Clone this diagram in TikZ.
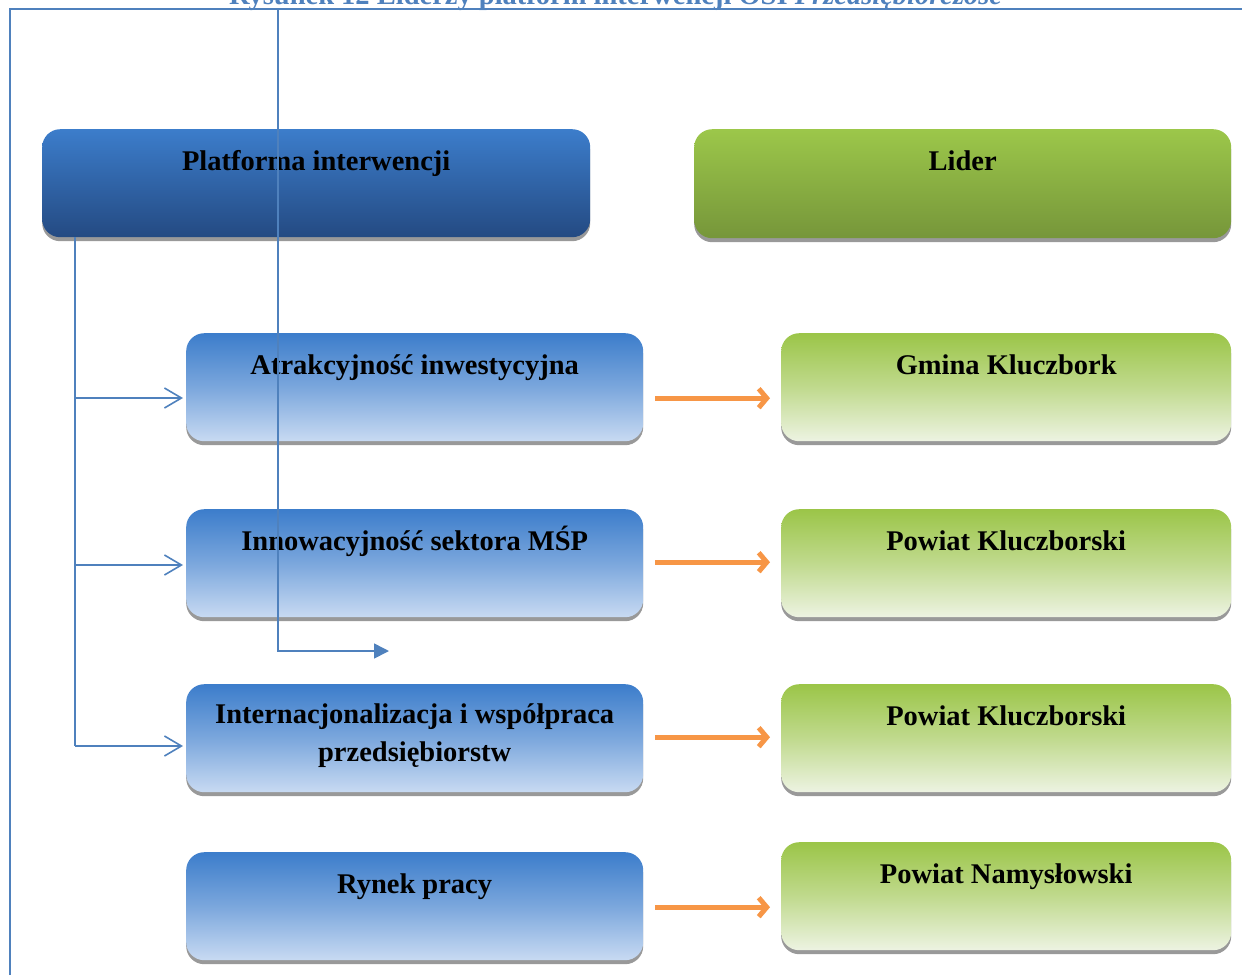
\documentclass[tikz,border=0pt]{standalone}
\usepackage{fontspec}
\setmainfont{Liberation Serif}
\usetikzlibrary{arrows.meta,shadows,calc}
\definecolor{frameblue}{HTML}{4F81BD}
\definecolor{ptop}{HTML}{3C7DCB}
\definecolor{pbot}{HTML}{244A82}
\definecolor{btop}{HTML}{3C7DCB}
\definecolor{bbot}{HTML}{C8DAF2}
\definecolor{ltop}{HTML}{9CC74A}
\definecolor{lbot}{HTML}{76963A}
\definecolor{gtop}{HTML}{9BC548}
\definecolor{gbot}{HTML}{EDF3E2}
\definecolor{orangeA}{HTML}{F79646}
\begin{document}
\begin{tikzpicture}[x=1pt,y=-1pt,
  boxbase/.style={rounded corners=18pt, anchor=north west, inner sep=0pt,
    general shadow={fill=black!40, shadow yshift=-4pt, shadow xshift=0pt}},
  platbox/.style={boxbase, top color=ptop, bottom color=pbot},
  liderbox/.style={boxbase, top color=ltop, bottom color=lbot},
  bluebox/.style={boxbase, top color=btop, bottom color=bbot, middle color=btop!55!bbot},
  greenbox/.style={boxbase, top color=gtop, bottom color=gbot, middle color=gtop!55!gbot},
  lefts/.style={minimum width=457pt, minimum height=108pt},
  rights/.style={minimum width=450pt, minimum height=108pt},
  txt/.style={font=\fontsize{28.5}{38}\selectfont\bfseries, inner sep=0pt, align=center, anchor=base},
  bline/.style={draw=frameblue, line width=1.6pt},
  openhead/.style={bline, -{Straight Barb[length=17pt,width=20pt]}},
  orarrow/.style={draw=orangeA, line width=5pt, -{Straight Barb[length=8pt,width=19pt]}},
]
\useasboundingbox (0,0) rectangle (1242,975);

% title (cut off at the top edge, as in the reference)
\node[font=\fontsize{28.5}{34}\selectfont\bfseries, text=frameblue, inner sep=0pt, anchor=base] (title) at (616,4)
  {Rysunek 12 Liderzy platform interwencji OSI \textit{Przedsiębiorczość}};

% frame
\coordinate (f0) at (10,975);
\coordinate (f1) at (10,9);
\coordinate (f2) at (1242,9);
\draw[bline] (f0) -- (f1) -- (f2);

% header boxes
\node[platbox, minimum width=548pt, minimum height=108pt] (p) at (42,129) {};
\node[liderbox, minimum width=537pt, minimum height=109pt] (l) at (694,129) {};

% left boxes
\node[bluebox, lefts] (a1) at (186,333) {};
\node[bluebox, lefts] (a2) at (186,509) {};
\node[bluebox, lefts] (a3) at (186,684) {};
\node[bluebox, lefts] (a4) at (186,852) {};

% right boxes
\node[greenbox, rights] (b1) at (781,333) {};
\node[greenbox, rights] (b2) at (781,509) {};
\node[greenbox, rights] (b3) at (781,684) {};
\node[greenbox, rights] (b4) at (781,842) {};

% texts
\node[txt] (tp) at ($(p.north)+(0,41)$) {Platforma interwencji};
\node[txt] (tl) at ($(l.north)+(0,41)$) {Lider};
\node[txt] (ta1) at ($(a1.north)+(0,41)$) {Atrakcyjność inwestycyjna};
\node[txt] (ta2) at ($(a2.north)+(0,41)$) {Innowacyjność sektora MŚP};
\node[txt] (ta3) at ($(a3.north)+(0,77)$) {Internacjonalizacja i współpraca\\przedsiębiorstw};
\node[txt] (ta4) at ($(a4.north)+(0,41)$) {Rynek pracy};
\node[txt] (tb1) at ($(b1.north)+(0,41)$) {Gmina Kluczbork};
\node[txt] (tb2) at ($(b2.north)+(0,41)$) {Powiat Kluczborski};
\node[txt] (tb3) at ($(b3.north)+(0,41)$) {Powiat Kluczborski};
\node[txt] (tb4) at ($(b4.north)+(0,41)$) {Powiat Namysłowski};

% left connector tree
\coordinate (c0) at (75,237);
\coordinate (k1) at (75,398);
\coordinate (k2) at (75,565);
\coordinate (k3) at (75,746);
\draw[bline] (c0) -- (k3);
\draw[openhead, shorten >=3pt] (k1) -- (a1.west |- k1);
\draw[openhead, shorten >=3pt] (k2) -- (a2.west |- k2);
\draw[openhead, shorten >=3pt] (k3) -- (a3.west |- k3);

% stray vertical connector
\coordinate (v0) at (278,9);
\coordinate (v1) at (278,651);
\coordinate (v2) at (389,651);
\draw[bline, -{Triangle[length=15pt,width=15pt]}] (v0) -- (v1) -- (v2);

% orange arrows
\draw[orarrow] ($(a1.east)+(12,11)$) -- ($(b1.west)+(-11,11)$);
\draw[orarrow] ($(a2.east)+(12,-1)$) -- ($(b2.west)+(-11,-1)$);
\draw[orarrow] ($(a3.east)+(12,-1)$) -- ($(b3.west)+(-11,-1)$);
\draw[orarrow] ($(a4.east)+(12,1)$) -- ($(b4.west)+(-11,11)$);
\end{tikzpicture}
\end{document}
